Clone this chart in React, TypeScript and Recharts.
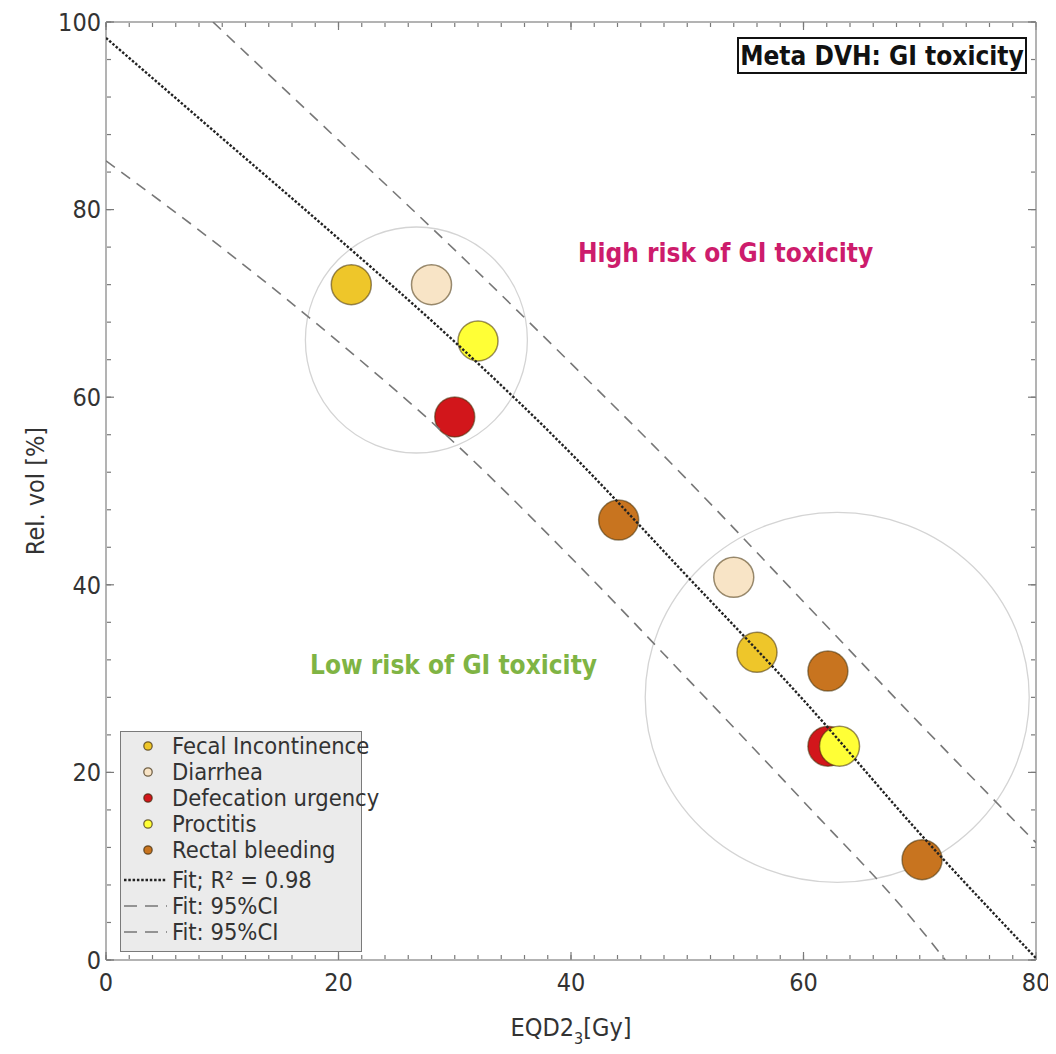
import React from 'react';
import { ComposedChart, Scatter, Line, XAxis, YAxis, ReferenceDot, Label } from 'recharts';

const FONT = "'DejaVu Sans Condensed', 'DejaVu Sans', sans-serif";

// ---- data ----
const fecalIncontinence = [{ x: 21.1, y: 72.0 }, { x: 56.0, y: 32.8 }];
const diarrhea = [{ x: 28.0, y: 72.0 }, { x: 54.0, y: 40.8 }];
const defecationUrgency = [{ x: 30.0, y: 57.9 }, { x: 62.1, y: 22.8 }];
const proctitis = [{ x: 32.0, y: 66.0 }, { x: 63.1, y: 22.8 }];
const rectalBleeding = [{ x: 44.1, y: 46.9 }, { x: 62.1, y: 30.8 }, { x: 70.2, y: 10.7 }];

const fitLine = [
  { x: 0, y: 98.3 }, { x: 10, y: 87.6 }, { x: 20, y: 76.9 }, { x: 30, y: 65.9 }, { x: 40, y: 54.0 },
  { x: 50, y: 40.9 }, { x: 60, y: 27.7 }, { x: 70, y: 13.5 }, { x: 80, y: 0.2 },
];
const ciUpper = [
  { x: 9.2, y: 100 }, { x: 20, y: 87.4 }, { x: 30, y: 75.7 }, { x: 40, y: 63.6 }, { x: 50, y: 51.2 },
  { x: 60, y: 38.2 }, { x: 70, y: 25.2 }, { x: 80, y: 12.5 },
];
const ciLower = [
  { x: 0, y: 85.2 }, { x: 10, y: 75.9 }, { x: 20, y: 65.9 }, { x: 30, y: 55.1 }, { x: 40, y: 42.9 },
  { x: 50, y: 30.0 }, { x: 60, y: 16.9 }, { x: 70, y: 3.4 }, { x: 72.2, y: 0 },
];

const riskClusters = [{ x: 26.7, y: 66.1 }, { x: 62.9, y: 28.0 }];
const annotations = [
  { x: 53.3, y: 75.4, text: 'High risk of GI toxicity' },
  { x: 29.9, y: 31.5, text: 'Low risk of GI toxicity' },
];

const xMajorTicks = [0, 20, 40, 60, 80];
const xMinorTicks = [0, 2, 4, 6, 8, 10, 12, 14, 16, 18, 20, 22, 24, 26, 28, 30, 32, 34, 36, 38, 40, 42, 44, 46, 48, 50, 52, 54, 56, 58, 60, 62, 64, 66, 68, 70, 72, 74, 76, 78, 80];
const yMajorTicks = [0, 20, 40, 60, 80, 100];
const yMinorTicks = [0, 2, 4, 6, 8, 10, 12, 14, 16, 18, 20, 22, 24, 26, 28, 30, 32, 34, 36, 38, 40, 42, 44, 46, 48, 50, 52, 54, 56, 58, 60, 62, 64, 66, 68, 70, 72, 74, 76, 78, 80, 82, 84, 86, 88, 90, 92, 94, 96, 98, 100];

const seriesNames = ['Fecal Incontinence', 'Diarrhea', 'Defecation urgency', 'Proctitis', 'Rectal bleeding'];
const seriesData = [fecalIncontinence, diarrhea, defecationUrgency, proctitis, rectalBleeding];
const seriesColors = ['#EEC62A', '#F8E4C6', '#D2161B', '#FFFF36', '#C8741F'];
const annotationColors = ['#CD1C6C', '#7FB444'];

const FRAME = { stroke: '#9a9a9a', strokeWidth: 1.5 };
const TICK = { stroke: '#7a7a7a', strokeWidth: 1.2 };

const EmptyTick = () => <g />;

const makeDot = (fill: string) => (p: any) => (
  <circle cx={p.cx} cy={p.cy} r={20} fill={fill} stroke="rgba(70,50,10,0.55)" strokeWidth={1.5} />
);

const XLabel = (props: any) => {
  const vb = props.viewBox || { x: 0, y: 0, width: 0, height: 0 };
  const cx = vb.x + vb.width / 2;
  return (
    <text x={cx} y={vb.y + 76} textAnchor="middle" fontFamily={FONT} fontSize={25} fill="#333">
      EQD2<tspan dy={8} fontSize={16}>3</tspan><tspan dy={-8}>[Gy]</tspan>
    </text>
  );
};

const YLabel = (props: any) => {
  const vb = props.viewBox || { x: 0, y: 0, width: 0, height: 0 };
  const cy = vb.y + vb.height / 2;
  const x = vb.x + 27;
  return (
    <text x={x} y={cy} transform={`rotate(-90 ${x} ${cy})`} textAnchor="middle" dominantBaseline="central" fontFamily={FONT} fontSize={25} fill="#333">
      Rel. vol [%]
    </text>
  );
};

const LegendBox = () => {
  const rows: any[] = [];
  seriesNames.forEach((n, i) => {
    rows.push(
      <div key={n} style={{ height: 26, display: 'flex', alignItems: 'center' }}>
        <svg width={51} height={26} style={{ flexShrink: 0 }}>
          <circle cx={27} cy={13} r={4.2} fill={seriesColors[i]} stroke="rgba(60,40,10,0.7)" strokeWidth={1.3} />
        </svg>
        <span style={{ whiteSpace: 'nowrap' }}>{n}</span>
      </div>
    );
  });
  const lines = [
    { label: 'Fit; R\u00B2 = 0.98', stroke: '#222', dash: '2.5 1.8', w: 2.4 },
    { label: 'Fit: 95%CI', stroke: '#777', dash: '13 8', w: 1.6 },
    { label: 'Fit: 95%CI', stroke: '#777', dash: '13 8', w: 1.6 },
  ];
  lines.forEach((l, i) => {
    rows.push(
      <div key={'l' + i} style={{ height: 26, marginTop: i === 0 ? 4 : 0, display: 'flex', alignItems: 'center' }}>
        <svg width={51} height={26} style={{ flexShrink: 0 }}>
          <line x1={3} y1={13} x2={46} y2={13} stroke={l.stroke} strokeWidth={l.w} strokeDasharray={l.dash} />
        </svg>
        <span style={{ whiteSpace: 'nowrap' }}>{l.label}</span>
      </div>
    );
  });
  return (
    <div
      style={{
        position: 'absolute', left: 112, top: 723, width: 242, height: 221, boxSizing: 'border-box',
        background: '#ebebeb', border: '1.5px solid #7a7a7a', paddingTop: 1, fontFamily: FONT,
        fontSize: 23.5, color: '#333', lineHeight: '26px', overflow: 'visible',
      }}
    >
      {rows}
    </div>
  );
};

export default function App() {
  const W = 1048;
  const H = 1040;
  return (
    <div style={{ position: 'relative', width: W, height: H, background: '#fff' }}>
      <ComposedChart width={W} height={H} margin={{ top: 14, right: 20, bottom: 0, left: 0 }}>
        {/* main axes with labels */}
        <XAxis xAxisId={0} dataKey="x" type="number" domain={[0, 80]} ticks={xMajorTicks} allowDataOverflow
          height={88} tickLine={false} tickSize={0} tickMargin={13} axisLine={FRAME}
          tick={{ fontSize: 25, fill: '#333', fontFamily: FONT }}>
          <Label content={XLabel} />
        </XAxis>
        <YAxis yAxisId={0} dataKey="y" type="number" domain={[0, 100]} ticks={yMajorTicks} allowDataOverflow
          width={98} tickLine={false} tickSize={0} tickMargin={5} axisLine={FRAME}
          tick={{ fontSize: 25, fill: '#333', fontFamily: FONT }}>
          <Label content={YLabel} />
        </YAxis>

        {/* inward tick marks on all four sides */}
        <XAxis xAxisId="xMajB" type="number" dataKey="x" domain={[0, 80]} ticks={xMajorTicks} allowDataOverflow
          orientation="bottom" mirror height={1} tickSize={8} axisLine={false} tick={EmptyTick} tickLine={TICK} />
        <XAxis xAxisId="xMinB" type="number" dataKey="x" domain={[0, 80]} ticks={xMinorTicks} allowDataOverflow
          orientation="bottom" mirror height={1} tickSize={4} axisLine={false} tick={EmptyTick} tickLine={TICK} />
        <XAxis xAxisId="xMajT" type="number" dataKey="x" domain={[0, 80]} ticks={xMajorTicks} allowDataOverflow
          orientation="top" mirror height={1} tickSize={8} axisLine={FRAME} tick={EmptyTick} tickLine={TICK} />
        <XAxis xAxisId="xMinT" type="number" dataKey="x" domain={[0, 80]} ticks={xMinorTicks} allowDataOverflow
          orientation="top" mirror height={1} tickSize={4} axisLine={false} tick={EmptyTick} tickLine={TICK} />
        <YAxis yAxisId="yMajL" type="number" dataKey="y" domain={[0, 100]} ticks={yMajorTicks} allowDataOverflow
          orientation="left" mirror width={1} tickSize={8} axisLine={false} tick={EmptyTick} tickLine={TICK} />
        <YAxis yAxisId="yMinL" type="number" dataKey="y" domain={[0, 100]} ticks={yMinorTicks} allowDataOverflow
          orientation="left" mirror width={1} tickSize={4} axisLine={false} tick={EmptyTick} tickLine={TICK} />
        <YAxis yAxisId="yMajR" type="number" dataKey="y" domain={[0, 100]} ticks={yMajorTicks} allowDataOverflow
          orientation="right" mirror width={1} tickSize={8} axisLine={FRAME} tick={EmptyTick} tickLine={TICK} />
        <YAxis yAxisId="yMinR" type="number" dataKey="y" domain={[0, 100]} ticks={yMinorTicks} allowDataOverflow
          orientation="right" mirror width={1} tickSize={4} axisLine={false} tick={EmptyTick} tickLine={TICK} />

        {/* cluster circles */}
        <ReferenceDot x={riskClusters[0].x} y={riskClusters[0].y} r={112} zIndex={50}
          shape={(p: any) => <ellipse cx={p.cx} cy={p.cy} rx={111} ry={113} fill="none" stroke="#d4d4d4" strokeWidth={1.3} />} />
        <ReferenceDot x={riskClusters[1].x} y={riskClusters[1].y} r={188} zIndex={50}
          shape={(p: any) => <ellipse cx={p.cx} cy={p.cy} rx={192} ry={185} fill="none" stroke="#d4d4d4" strokeWidth={1.3} />} />

        {/* annotations */}
        {annotations.map((a, i) => (
          <ReferenceDot key={a.text} x={a.x} y={a.y} r={1} zIndex={60}
            shape={(p: any) => (
              <text x={p.cx} y={p.cy} textAnchor="middle" dominantBaseline="central" fontFamily={FONT}
                fontWeight="bold" fontSize={26} fill={annotationColors[i]}>{a.text}</text>
            )} />
        ))}

        {seriesData.map((d, i) => (
          <Scatter key={seriesNames[i]} name={seriesNames[i]} data={d} dataKey="y" fill={seriesColors[i]}
            shape={makeDot(seriesColors[i])} isAnimationActive={false} />
        ))}

        <Line data={ciUpper} dataKey="y" type="monotone" stroke="#777" strokeWidth={1.6} strokeDasharray="11 8"
          dot={false} activeDot={false} isAnimationActive={false} zIndex={700} />
        <Line data={ciLower} dataKey="y" type="monotone" stroke="#777" strokeWidth={1.6} strokeDasharray="11 8"
          dot={false} activeDot={false} isAnimationActive={false} zIndex={700} />
        <Line data={fitLine} dataKey="y" type="monotone" stroke="#222" strokeWidth={2.4} strokeDasharray="2.5 1.8"
          dot={false} activeDot={false} isAnimationActive={false} zIndex={710} />
      </ComposedChart>

      <LegendBox />

      <div
        style={{
          position: 'absolute', left: 729, top: 29, width: 290, height: 37, boxSizing: 'border-box',
          border: '2px solid #111', background: '#fff', display: 'flex', alignItems: 'center', justifyContent: 'center',
          fontFamily: FONT, fontWeight: 'bold', fontSize: 26, color: '#111', whiteSpace: 'nowrap',
        }}
      >
        Meta DVH: GI toxicity
      </div>
    </div>
  );
}
